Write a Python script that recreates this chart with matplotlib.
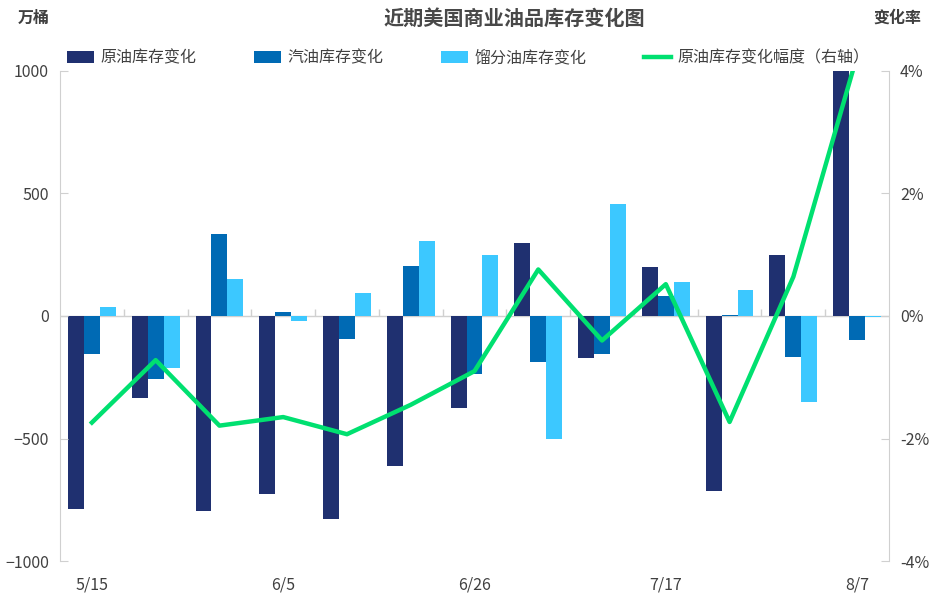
import numpy as np
import matplotlib
matplotlib.use('Agg')
import matplotlib.pyplot as plt

plt.rcParams['font.family'] = ['Noto Sans CJK SC', 'DejaVu Sans']

weeks = ['5/15', '5/22', '5/29', '6/5', '6/12', '6/19', '6/26',
         '7/3', '7/10', '7/17', '7/24', '7/31', '8/7']
crude = [-786, -334, -797, -725, -827, -611, -377, 299, -170, 201, -716, 250, 1060]
gasoline = [-154, -256, 336, 18, -92, 205, -235, -189, -154, 80, 5, -166, -97]
distillate = [38, -211, 152, -19, 95, 307, 250, -501, 459, 140, 107, -350, -4]
crude_pct = [-1.74, -0.72, -1.79, -1.65, -1.93, -1.45, -0.90, 0.76, -0.40, 0.52, -1.73, 0.64, 4.25]
shown_labels = ['5/15', '6/5', '6/26', '7/17', '8/7']

c_crude = '#1f3070'
c_gas = '#006ab4'
c_dist = '#3cc8ff'
c_line = '#00e070'
txt = '#404040'
grid_c = '#d0d0d0'

fig = plt.figure(figsize=(9.37, 6.01), dpi=100)
ax = fig.add_axes([60/937, 40/601, 829/937, 490/601])
ax2 = ax.twinx()

x = np.arange(len(weeks))
w = 0.25
ax.bar(x - w, crude, w, color=c_crude, label='原油库存变化')
ax.bar(x, gasoline, w, color=c_gas, label='汽油库存变化')
ax.bar(x + w, distillate, w, color=c_dist, label='馏分油库存变化')
ax.set_ylim(-1000, 1000)
ax.set_xlim(-0.5, len(weeks) - 0.5)
ax.set_yticks([-1000, -500, 0, 500, 1000])

# zero line with category separators
ax.axhline(0, color=grid_c, lw=1, zorder=0)
ax.vlines(np.arange(0.5, len(weeks) - 0.5), 0, 30, color=grid_c, lw=1, zorder=0)

ax2.plot(x, crude_pct, color=c_line, lw=3.2, label='原油库存变化幅度（右轴）')
ax2.set_ylim(-4, 4)
ax2.set_yticks([-4, -2, 0, 2, 4])
ax2.set_yticklabels([f'{v}%' for v in [-4, -2, 0, 2, 4]])

ax.set_xticks([weeks.index(s) for s in shown_labels])
ax.set_xticklabels(shown_labels)

for a in (ax, ax2):
    for s in a.spines.values():
        s.set_visible(False)
    a.tick_params(axis='y', direction='in', length=6, color=grid_c, labelsize=11.5, labelcolor=txt, pad=8)
ax.spines['left'].set_visible(True)
ax.spines['left'].set_color(grid_c)
ax2.spines['right'].set_visible(True)
ax2.spines['right'].set_color(grid_c)
ax.tick_params(axis='x', length=0, labelsize=11.5, labelcolor=txt, pad=11)

fig.text(514/937, 1 - 18/601, '近期美国商业油品库存变化图', ha='center', va='center',
         fontsize=14.5, color='#484848', fontweight='bold')
fig.text(34/937, 1 - 18/601, '万桶', ha='center', va='center', fontsize=11.5, color=txt, fontweight='bold')
fig.text(897/937, 1 - 18/601, '变化率', ha='center', va='center', fontsize=11.5, color=txt, fontweight='bold')

h1, l1 = ax.get_legend_handles_labels()
h2, l2 = ax2.get_legend_handles_labels()
leg = fig.legend(h1 + h2, l1 + l2, loc='center left', bbox_to_anchor=(67/937, 1 - 58/601),
                 ncol=4, frameon=False, fontsize=11.5, borderpad=0, borderaxespad=0,
                 handlelength=1.7, handletextpad=0.4, columnspacing=3.6)
for t in leg.get_texts():
    t.set_color(txt)

fig.savefig('out.png', dpi=100)
